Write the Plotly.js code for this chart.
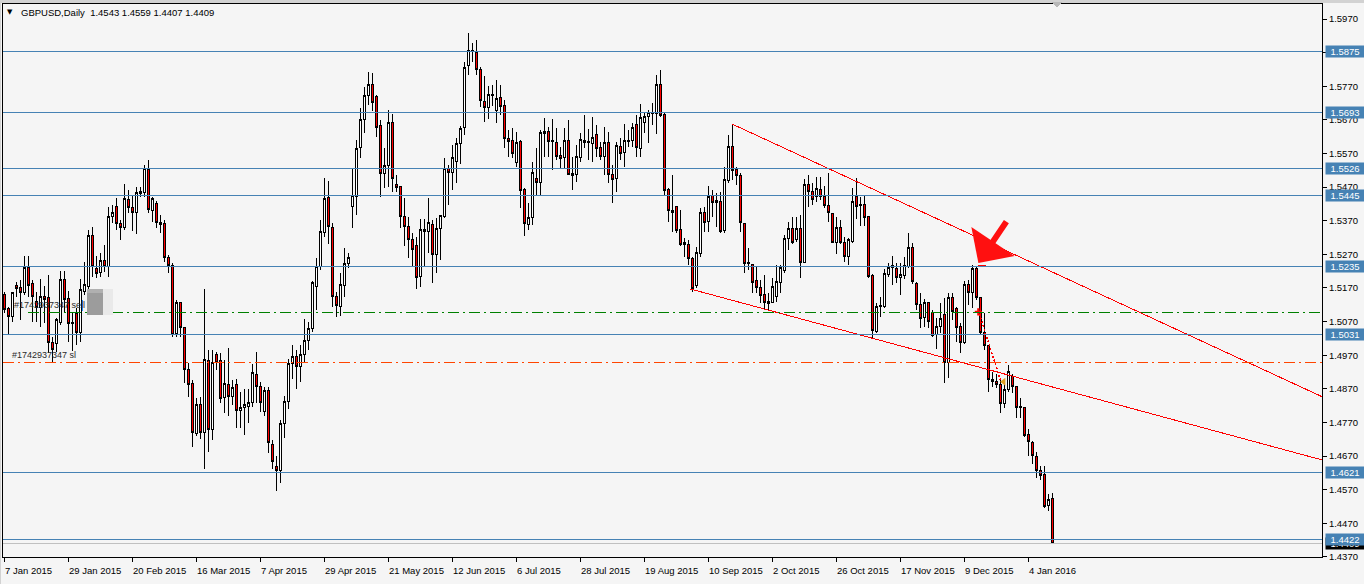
<!DOCTYPE html>
<html><head><meta charset="utf-8">
<script src="https://cdn.plot.ly/plotly-3.0.1.min.js"></script>
<style>
html,body{margin:0;padding:0;background:#F5F5F5;overflow:hidden}
.boxlayer{transform:translate(0.5px,0px)}
.boxlayer path,.shapelayer path,.scatterlayer path.js-line{shape-rendering:crispEdges}
</style>
</head><body><div id="chart" style="width:1364px;height:584px"></div>
<script>
// ---- data: GBPUSD daily, one value per bar ----
const openP = [1.5150,1.5108,1.5084,1.5177,1.5171,1.5156,1.5230,1.5182,1.5129,1.5111,
1.5144,1.5141,1.5007,1.5004,1.5067,1.5194,1.5138,1.5064,1.5093,1.5037,
1.5159,1.5174,1.5325,1.5227,1.5215,1.5251,1.5233,1.5382,1.5411,1.5361,
1.5349,1.5432,1.5408,1.5394,1.5456,1.5453,1.5524,1.5402,1.5420,1.5364,
1.5361,1.5260,1.5236,1.5034,1.5126,1.5052,1.4927,1.4885,1.4737,1.4823,
1.4740,1.4954,1.4749,1.4971,1.4954,1.4844,1.4882,1.4847,1.4882,1.4805,
1.4814,1.4817,1.4829,1.4912,1.4876,1.4802,1.4865,1.4705,1.4640,1.4626,
1.4768,1.4833,1.4945,1.4966,1.4937,1.4973,1.5015,1.5049,1.5174,1.5233,
1.5334,1.5438,1.5349,1.5144,1.5114,1.5177,1.5242,1.5411,1.5441,1.5587,
1.5670,1.5744,1.5774,1.5741,1.5652,1.5512,1.5533,1.5661,1.5477,1.5471,
1.5382,1.5352,1.5313,1.5295,1.5203,1.5337,1.5337,1.5358,1.5269,1.5346,
1.5382,1.5527,1.5515,1.5545,1.5599,1.5649,1.5833,1.5875,1.5872,1.5821,
1.5726,1.5706,1.5744,1.5697,1.5738,1.5712,1.5616,1.5608,1.5542,1.5605,
1.5462,1.5358,1.5379,1.5495,1.5483,1.5631,1.5637,1.5605,1.5602,1.5563,
1.5557,1.5610,1.5512,1.5509,1.5557,1.5610,1.5602,1.5599,1.5628,1.5587,
1.5560,1.5602,1.5509,1.5495,1.5590,1.5572,1.5605,1.5610,1.5655,1.5584,
1.5661,1.5679,1.5688,1.5688,1.5774,1.5685,1.5462,1.5402,1.5411,1.5343,
1.5304,1.5298,1.5257,1.5177,1.5272,1.5394,1.5367,1.5444,1.5429,1.5426,
1.5340,1.5489,1.5590,1.5524,1.5506,1.5361,1.5245,1.5239,1.5192,1.5171,
1.5150,1.5129,1.5126,1.5144,1.5186,1.5221,1.5316,1.5346,1.5313,1.5346,
1.5245,1.5477,1.5456,1.5441,1.5462,1.5441,1.5414,1.5391,1.5304,1.5349,
1.5304,1.5263,1.5307,1.5441,1.5414,1.5417,1.5382,1.5206,1.5040,1.5114,
1.5114,1.5209,1.5230,1.5227,1.5200,1.5206,1.5233,1.5290,1.5183,1.5120,
1.5081,1.5126,1.5096,1.5031,1.5055,1.5090,1.4948,1.5141,1.5108,1.5055,
1.5007,1.5180,1.5156,1.5227,1.5141,1.5037,1.4998,1.4897,1.4891,1.4882,
1.4826,1.4867,1.4906,1.4876,1.4817,1.4814,1.4734,1.4710,1.4668,1.4627,
1.4615,1.4523,1.4543];
const highP = [1.5159,1.5114,1.5159,1.5188,1.5194,1.5266,1.5266,1.5194,1.5159,1.5197,
1.5177,1.5209,1.5025,1.5082,1.5221,1.5221,1.5162,1.5096,1.5111,1.5197,
1.5248,1.5343,1.5352,1.5266,1.5275,1.5298,1.5411,1.5417,1.5438,1.5373,
1.5480,1.5462,1.5444,1.5471,1.5471,1.5536,1.5551,1.5441,1.5429,1.5388,
1.5373,1.5269,1.5245,1.5135,1.5129,1.5055,1.4948,1.4897,1.4844,1.4847,
1.5168,1.4986,1.4986,1.4980,1.4977,1.4957,1.4992,1.4897,1.4900,1.4859,
1.4870,1.4870,1.4945,1.4980,1.4891,1.4876,1.4876,1.4718,1.4670,1.4777,
1.4848,1.4959,1.4999,1.4986,1.4999,1.5078,1.5070,1.5190,1.5260,1.5373,
1.5498,1.5489,1.5364,1.5159,1.5215,1.5290,1.5275,1.5526,1.5610,1.5706,
1.5768,1.5813,1.5810,1.5744,1.5670,1.5587,1.5700,1.5688,1.5506,1.5474,
1.5438,1.5382,1.5334,1.5322,1.5376,1.5376,1.5438,1.5373,1.5379,1.5388,
1.5557,1.5536,1.5596,1.5616,1.5652,1.5842,1.5928,1.5899,1.5908,1.5827,
1.5801,1.5771,1.5774,1.5789,1.5774,1.5729,1.5640,1.5646,1.5634,1.5610,
1.5468,1.5423,1.5545,1.5587,1.5640,1.5676,1.5649,1.5673,1.5646,1.5590,
1.5646,1.5670,1.5560,1.5596,1.5631,1.5685,1.5643,1.5679,1.5655,1.5605,
1.5649,1.5634,1.5536,1.5605,1.5616,1.5658,1.5640,1.5661,1.5685,1.5717,
1.5694,1.5700,1.5720,1.5804,1.5819,1.5691,1.5468,1.5506,1.5414,1.5402,
1.5319,1.5313,1.5263,1.5293,1.5408,1.5411,1.5474,1.5462,1.5453,1.5456,
1.5530,1.5625,1.5658,1.5530,1.5512,1.5364,1.5290,1.5242,1.5236,1.5195,
1.5209,1.5156,1.5200,1.5239,1.5239,1.5328,1.5367,1.5382,1.5382,1.5388,
1.5495,1.5506,1.5483,1.5500,1.5500,1.5474,1.5512,1.5394,1.5382,1.5373,
1.5322,1.5319,1.5468,1.5498,1.5441,1.5444,1.5385,1.5212,1.5126,1.5144,
1.5227,1.5245,1.5266,1.5245,1.5245,1.5263,1.5334,1.5304,1.5189,1.5156,
1.5138,1.5129,1.5105,1.5081,1.5126,1.5141,1.5156,1.5156,1.5114,1.5067,
1.5192,1.5195,1.5239,1.5233,1.5144,1.5096,1.5001,1.4921,1.4915,1.4897,
1.4885,1.4942,1.4915,1.4879,1.4844,1.4817,1.4749,1.4716,1.4683,1.4639,
1.4639,1.4556,1.4559];
const lowP = [1.5096,1.5031,1.5070,1.5144,1.5076,1.5150,1.5144,1.5070,1.5070,1.5055,
1.5067,1.4977,1.4948,1.4980,1.5061,1.5096,1.5010,1.4983,1.5001,1.5010,
1.5150,1.5165,1.5203,1.5200,1.5203,1.5218,1.5203,1.5364,1.5343,1.5313,
1.5343,1.5394,1.5340,1.5331,1.5441,1.5441,1.5394,1.5367,1.5349,1.5334,
1.5248,1.5215,1.5025,1.5025,1.5025,1.4888,1.4847,1.4698,1.4731,1.4722,
1.4630,1.4683,1.4719,1.4927,1.4829,1.4799,1.4790,1.4823,1.4752,1.4752,
1.4734,1.4769,1.4817,1.4829,1.4802,1.4790,1.4680,1.4632,1.4565,1.4590,
1.4724,1.4810,1.4900,1.4870,1.4890,1.4950,1.4985,1.5040,1.5105,1.5224,
1.5322,1.5301,1.5114,1.5084,1.5087,1.5144,1.5230,1.5349,1.5388,1.5557,
1.5631,1.5715,1.5697,1.5619,1.5441,1.5468,1.5471,1.5456,1.5456,1.5349,
1.5295,1.5260,1.5233,1.5168,1.5174,1.5233,1.5275,1.5186,1.5215,1.5254,
1.5379,1.5417,1.5462,1.5483,1.5539,1.5625,1.5804,1.5842,1.5804,1.5709,
1.5664,1.5673,1.5712,1.5661,1.5685,1.5587,1.5560,1.5557,1.5530,1.5408,
1.5325,1.5343,1.5358,1.5447,1.5447,1.5560,1.5560,1.5521,1.5551,1.5527,
1.5524,1.5506,1.5462,1.5486,1.5545,1.5587,1.5551,1.5545,1.5560,1.5551,
1.5506,1.5483,1.5423,1.5456,1.5551,1.5530,1.5590,1.5590,1.5560,1.5560,
1.5631,1.5602,1.5655,1.5628,1.5679,1.5447,1.5367,1.5337,1.5334,1.5295,
1.5263,1.5239,1.5159,1.5171,1.5263,1.5337,1.5337,1.5382,1.5352,1.5334,
1.5334,1.5483,1.5492,1.5477,1.5337,1.5215,1.5224,1.5156,1.5156,1.5126,
1.5105,1.5105,1.5126,1.5129,1.5156,1.5215,1.5284,1.5301,1.5307,1.5200,
1.5245,1.5411,1.5417,1.5426,1.5432,1.5408,1.5367,1.5304,1.5270,1.5301,
1.5248,1.5239,1.5304,1.5376,1.5355,1.5355,1.5200,1.5022,1.5037,1.5084,
1.5111,1.5203,1.5180,1.5186,1.5150,1.5197,1.5230,1.5183,1.5105,1.5052,
1.5055,1.5052,1.5025,1.4989,1.5037,1.4888,1.4903,1.5075,1.5010,1.4977,
1.5004,1.5120,1.5111,1.5135,1.5031,1.4986,1.4859,1.4876,1.4873,1.4799,
1.4814,1.4861,1.4858,1.4784,1.4784,1.4728,1.4669,1.4645,1.4606,1.4600,
1.4515,1.4505,1.4407];
const closeP = [1.5105,1.5084,1.5156,1.5168,1.5156,1.5230,1.5177,1.5144,1.5111,1.5144,
1.5135,1.5007,1.4986,1.5076,1.5194,1.5135,1.5064,1.5067,1.5037,1.5165,
1.5180,1.5325,1.5233,1.5212,1.5251,1.5233,1.5382,1.5394,1.5361,1.5349,
1.5435,1.5408,1.5394,1.5453,1.5450,1.5527,1.5405,1.5435,1.5364,1.5358,
1.5260,1.5236,1.5031,1.5126,1.5052,1.4927,1.4882,1.4740,1.4823,1.4740,
1.4957,1.4749,1.4948,1.4948,1.4841,1.4885,1.4847,1.4873,1.4805,1.4814,
1.4823,1.4829,1.4918,1.4876,1.4829,1.4865,1.4710,1.4653,1.4626,1.4768,
1.4833,1.4945,1.4966,1.4937,1.4973,1.5015,1.5049,1.5185,1.5233,1.5337,
1.5435,1.5352,1.5144,1.5117,1.5180,1.5242,1.5260,1.5445,1.5584,1.5670,
1.5744,1.5774,1.5723,1.5649,1.5512,1.5533,1.5661,1.5497,1.5468,1.5382,
1.5352,1.5313,1.5284,1.5200,1.5343,1.5343,1.5364,1.5269,1.5346,1.5385,
1.5527,1.5515,1.5557,1.5599,1.5646,1.5827,1.5878,1.5878,1.5821,1.5729,
1.5706,1.5747,1.5747,1.5735,1.5709,1.5616,1.5605,1.5569,1.5602,1.5459,
1.5361,1.5379,1.5515,1.5483,1.5634,1.5637,1.5605,1.5608,1.5560,1.5554,
1.5610,1.5509,1.5506,1.5560,1.5613,1.5602,1.5605,1.5619,1.5584,1.5560,
1.5602,1.5509,1.5492,1.5593,1.5569,1.5610,1.5610,1.5649,1.5587,1.5676,
1.5679,1.5691,1.5691,1.5774,1.5682,1.5459,1.5402,1.5396,1.5340,1.5298,
1.5298,1.5257,1.5168,1.5275,1.5394,1.5364,1.5441,1.5423,1.5423,1.5337,
1.5492,1.5590,1.5521,1.5506,1.5364,1.5242,1.5242,1.5186,1.5171,1.5147,
1.5126,1.5123,1.5174,1.5189,1.5230,1.5316,1.5346,1.5304,1.5346,1.5245,
1.5477,1.5456,1.5432,1.5465,1.5441,1.5414,1.5394,1.5304,1.5349,1.5304,
1.5263,1.5313,1.5426,1.5411,1.5417,1.5379,1.5203,1.5043,1.5114,1.5117,
1.5212,1.5230,1.5236,1.5200,1.5209,1.5236,1.5290,1.5189,1.5120,1.5078,
1.5126,1.5070,1.5028,1.5055,1.5078,1.4948,1.5141,1.5099,1.5052,1.5007,
1.5180,1.5156,1.5227,1.5141,1.5037,1.4998,1.4897,1.4891,1.4882,1.4826,
1.4867,1.4921,1.4876,1.4814,1.4814,1.4731,1.4713,1.4671,1.4627,1.4612,
1.4520,1.4541,1.4409];

const tickLabels = ['7 Jan 2015','29 Jan 2015','20 Feb 2015','16 Mar 2015','7 Apr 2015','29 Apr 2015',
  '21 May 2015','12 Jun 2015','6 Jul 2015','28 Jul 2015','19 Aug 2015','10 Sep 2015','2 Oct 2015',
  '26 Oct 2015','17 Nov 2015','9 Dec 2015','4 Jan 2016'];
const barsPerTick = 16;
const levelLines = [1.5875, 1.5693, 1.5526, 1.5445, 1.5235, 1.5031, 1.4621, 1.4422];
const sellPrice = 1.5098;
const stopPrice = 1.4947;
const bidPrice = 1.4409;
const headerSymbol = 'GBPUSD,Daily';
const headerOHLC = '1.4543 1.4559 1.4407 1.4409';
const orderLabel = '#1742937347';
const trendUpperX = [182, 329.6], trendUpperY = [1.5658, 1.4846];
const trendLowerX = [171.6, 329.6], trendLowerY = [1.5167, 1.4658];
const closedTradeX = [243.85, 249.1], closedTradeY = [1.5093, 1.4896];
const openMarkX = [243.6], openMarkY = [1.5099];
const closeMarkX = [249.9], closeMarkY = [1.4891];
const arrowTipX = 243.6, arrowTipY = 1.5244;

// ---- font choice ----
function hasFont(name){
  const c = document.createElement('canvas').getContext('2d');
  const s = '1.5970 GBPUSD Jan 2015';
  c.font = '20px monospace'; const a = c.measureText(s).width;
  c.font = '20px "' + name + '", monospace'; const b = c.measureText(s).width;
  return Math.abs(a - b) > 0.5;
}
const FONT = hasFont('Liberation Sans Narrow')
  ? {family: '"Liberation Sans Narrow", "Liberation Sans", sans-serif', size: 11, color: '#000'}
  : {family: '"Liberation Sans", Arial, sans-serif', size: 9.5, color: '#000'};
const LABELFONT = Object.assign({}, FONT, {size: FONT.size - 0.5, color: '#2A2A2A'});

const idx = openP.map((_, i) => i);
const tickVals = tickLabels.map((_, k) => k * barsPerTick);

const traces = [
  {type: 'candlestick', x: idx, open: openP, high: highP, low: lowP, close: closeP,
   line: {width: 1}, whiskerwidth: 0,
   increasing: {line: {color: '#000000', width: 1}, fillcolor: '#FFFFFF'},
   decreasing: {line: {color: '#000000', width: 1}, fillcolor: '#FF0000'},
   hoverinfo: 'skip', showlegend: false},
  {type: 'scatter', mode: 'lines', x: trendUpperX, y: trendUpperY, line: {color: '#FF0000', width: 1}, hoverinfo: 'skip', showlegend: false},
  {type: 'scatter', mode: 'lines', x: trendLowerX, y: trendLowerY, line: {color: '#FF0000', width: 1}, hoverinfo: 'skip', showlegend: false},
  {type: 'scatter', mode: 'lines', x: closedTradeX, y: closedTradeY, line: {color: '#FF0000', width: 1.5, dash: '2px,2px'}, hoverinfo: 'skip', showlegend: false},
  {type: 'scatter', mode: 'markers', x: openMarkX, y: openMarkY, marker: {symbol: 'cross', size: 6, color: '#FF0000'}, hoverinfo: 'skip', showlegend: false},
  {type: 'scatter', mode: 'markers', x: closeMarkX, y: closeMarkY, marker: {symbol: 'triangle-left', size: 7, color: '#E0A020'}, hoverinfo: 'skip', showlegend: false}
];

const shapes = [
  {type: 'rect', xref: 'paper', yref: 'paper', x0: -0.01, x1: 1.04, y0: 1.0018, y1: 1.01, fillcolor: '#D2D2D2', line: {width: 0}},
  {type: 'rect', xref: 'paper', yref: 'paper', x0: -0.01, x1: -0.0015, y0: -0.06, y1: 1.01, fillcolor: '#D2D2D2', line: {width: 0}},
  {type: 'path', xref: 'paper', yref: 'paper', path: 'M 0.7953 1.0036 L 0.8029 1.0036 L 0.7991 0.9928 Z', fillcolor: '#B8B8B8', line: {width: 0}},
  {type: 'line', xref: 'paper', x0: 0, x1: 1, yref: 'y', y0: bidPrice, y1: bidPrice, line: {color: '#C0C0C0', width: 1}},
  {type: 'line', xref: 'paper', x0: 0.019, x1: 1, yref: 'y', y0: sellPrice, y1: sellPrice, line: {color: '#008000', width: 1, dash: '11px,4px,2px,4px'}},
  {type: 'line', xref: 'paper', x0: 0, x1: 1, yref: 'y', y0: stopPrice, y1: stopPrice, line: {color: '#FF4500', width: 1, dash: '11px,4px,2px,4px'}},
  {type: 'rect', xref: 'x', yref: 'y', x0: 20.85, x1: 24.85, y0: 1.5090, y1: 1.5168, fillcolor: '#9C9C9C', line: {width: 0}},
  {type: 'rect', xref: 'x', yref: 'y', x0: 20.85, x1: 24.85, y0: 1.5155, y1: 1.5168, fillcolor: '#B0B0B0', line: {width: 0}},
  {type: 'rect', xref: 'x', yref: 'y', x0: 24.85, x1: 27.35, y0: 1.5090, y1: 1.5168, fillcolor: '#E9E9E9', line: {width: 0}},
  {type: 'line', xref: 'x', yref: 'y', x0: 19.7, x1: 19.7, y0: 1.5102, y1: 1.5135, line: {color: '#1E90FF', width: 1}},
  {type: 'line', xref: 'x', yref: 'y', x0: 243.4, x1: 245.4, y0: 1.5237, y1: 1.5237, line: {color: '#FF0000', width: 1}}
].concat(levelLines.map(v => ({type: 'line', xref: 'paper', x0: 0, x1: 1, yref: 'y', y0: v, y1: v,
  line: {color: '#4682B4', width: 1}})));

const boxAnn = (v, bg) => ({xref: 'paper', x: 1, xanchor: 'left', xshift: 3, yref: 'y', y: v, yanchor: 'middle',
  text: v.toFixed(4), showarrow: false, bgcolor: bg, font: Object.assign({}, FONT, {color: '#FFFFFF'}),
  width: 36, height: 9, borderpad: 1, align: 'center'});

const annotations = [
  {xref: 'paper', x: 0, xanchor: 'left', xshift: 2, yref: 'paper', y: 1, yanchor: 'middle', yshift: -8,
   text: '\u25BC', showarrow: false, font: {family: 'DejaVu Sans', size: 7, color: '#000'}},
  {xref: 'paper', x: 0, xanchor: 'left', xshift: 16, yref: 'paper', y: 1, yanchor: 'middle', yshift: -8,
   text: headerSymbol + '\u00A0\u00A0' + headerOHLC, showarrow: false, font: FONT},
  {xref: 'paper', x: 0, xanchor: 'left', xshift: 9, yref: 'y', y: sellPrice, yanchor: 'middle', yshift: 7,
   text: orderLabel + ' sell', showarrow: false, font: LABELFONT},
  {xref: 'paper', x: 0, xanchor: 'left', xshift: 7, yref: 'y', y: stopPrice, yanchor: 'middle', yshift: 8,
   text: orderLabel + ' sl', showarrow: false, font: LABELFONT},
  boxAnn(bidPrice, '#000000')
].concat(levelLines.map(v => boxAnn(v, '#4682B4'))).concat([
  {xref: 'x', yref: 'y', x: arrowTipX, y: arrowTipY, ax: 29, ay: -43, text: '', showarrow: true,
   arrowhead: 1, arrowsize: 1.45, arrowwidth: 6, arrowcolor: '#FF1010', standoff: 0}
]);

const layout = {
  width: 1364, height: 584,
  margin: {l: 3, r: 42, t: 4, b: 27, pad: 0},
  paper_bgcolor: '#F5F5F5', plot_bgcolor: '#F5F5F5',
  font: FONT, showlegend: false, hovermode: false, dragmode: false,
  boxgap: 0.5, boxgroupgap: 0,
  xaxis: {type: 'linear', range: [-0.25, 329.5], rangeslider: {visible: false},
    showgrid: false, zeroline: false, showline: true, linecolor: '#000', linewidth: 1, mirror: true,
    tickmode: 'array', tickvals: tickVals, ticktext: tickLabels, ticks: 'outside', ticklen: 4,
    tickcolor: '#000', tickwidth: 1, ticklabelposition: 'outside right', ticklabelstandoff: 5,
    tickfont: FONT, fixedrange: true},
  yaxis: {side: 'right', range: [1.43695, 1.6015], showgrid: false, zeroline: false,
    showline: true, linecolor: '#000', linewidth: 1, mirror: true,
    tick0: 1.437, dtick: 0.01, tickformat: '.4f', ticks: 'outside', ticklen: 4, tickcolor: '#000',
    tickwidth: 1, tickfont: FONT, fixedrange: true},
  shapes: shapes,
  annotations: annotations
};

Plotly.newPlot('chart', traces, layout, {staticPlot: true, displayModeBar: false});
</script>
</body></html>
